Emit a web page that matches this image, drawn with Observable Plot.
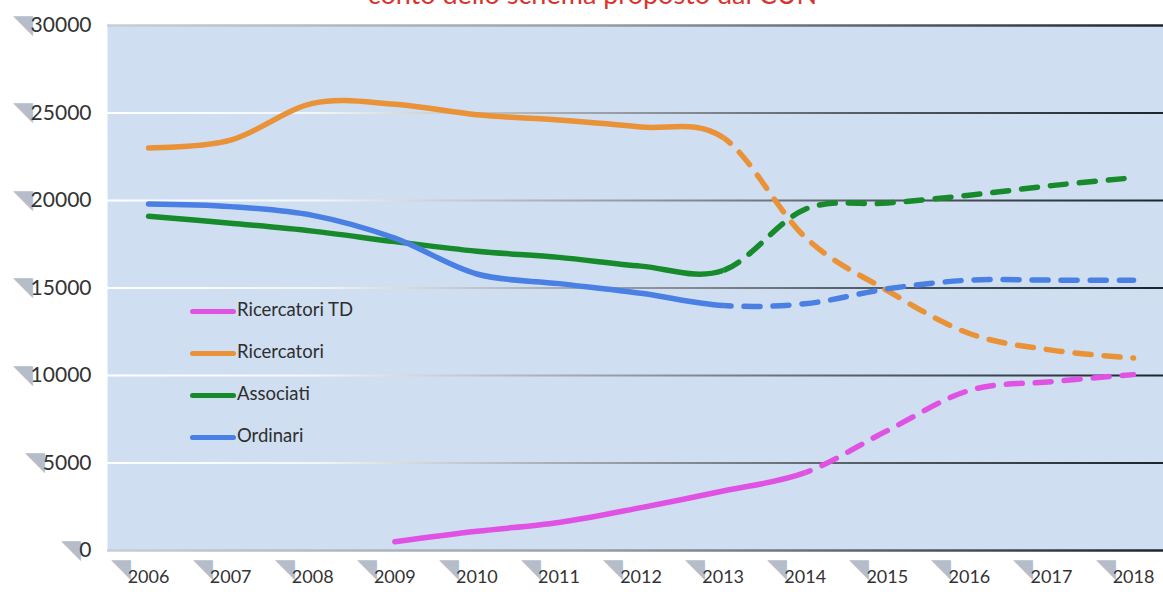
<!DOCTYPE html>
<html>
<head>
<meta charset="utf-8">
<script src="https://cdn.jsdelivr.net/npm/d3@7"></script>
<script src="https://cdn.jsdelivr.net/npm/@observablehq/plot@0.6"></script>
<style>
  html, body { margin: 0; padding: 0; background: #ffffff; overflow: hidden; }
  #wrap { position: relative; width: 1163px; height: 592px; font-family: Lato, "Open Sans", sans-serif; }
  #title { position: absolute; top: -20px; left: 11px; width: 1163px; text-align: center;
           font-size: 27px; line-height: 27px; color: #d8352f; white-space: nowrap; }
  #legend { position: absolute; left: 190px; top: 288px; font-size: 18.5px; color: #2e2e2e; }
  #legend .row { height: 42px; line-height: 42px; white-space: nowrap; }
  #legend .sw { display: inline-block; width: 46px; height: 5px; border-radius: 3px; vertical-align: middle; margin-right: 1px; }
  #chart svg { display: block; }
</style>
</head>
<body>
<div id="wrap">
  <div id="chart"></div>
  <div id="title">conto dello schema proposto dal CUN</div>
  <div id="legend"></div>
</div>
<script>
// ---- data ----
const years = [2006, 2007, 2008, 2009, 2010, 2011, 2012, 2013, 2014, 2015, 2016, 2017, 2018];
const ricercatoriTD = [null, null, null, 500, 1100, 1600, 2450, 3400, 4450, 6850, 9150, 9650, 10050];
const ricercatori   = [23000, 23450, 25550, 25500, 24900, 24600, 24200, 23600, 17900, 14850, 12400, 11450, 11000];
const associati     = [19100, 18700, 18250, 17650, 17100, 16750, 16250, 16000, 19500, 19850, 20300, 20850, 21300];
const ordinari      = [19800, 19650, 19150, 17850, 15800, 15250, 14700, 14000, 14100, 14950, 15450, 15450, 15450];
const seriesNames   = ["Ricercatori TD", "Ricercatori", "Associati", "Ordinari"];
const seriesColors  = ["#e052e4", "#e99238", "#178a2b", "#4a80e4"];
const projectionFrom = [2014, 2013, 2013, 2013];
const yTicks = [0, 5000, 10000, 15000, 20000, 25000, 30000];

const seriesValues = [ricercatoriTD, ricercatori, associati, ordinari];
const seriesRows = seriesValues.map((vals, si) =>
  years.map((yr, i) => ({series: seriesNames[si], year: yr, value: vals[i]})).filter(d => d.value != null)
);

const W = 1163, H = 592, ML = 107, MR = 0, MT = 25, MB = 42;
const Y_FONT = 21, DIGIT_W = 12.2, WEDGE = "#b5bdcb";

const lineMarks = [];
seriesRows.forEach((rows, si) => {
  const common = {x: "year", y: "value", stroke: seriesColors[si], strokeWidth: 5.5, curve: "cardinal", tension: 0};
  lineMarks.push(Plot.line(rows, {...common, strokeLinecap: "round", strokeLinejoin: "round"}));
  lineMarks.push(Plot.line(rows, {...common, strokeDasharray: "16,13", strokeLinecap: "round"}));
});

// wedges left of the y labels, grouped by label length
const wedgeMarks = [...new Set(yTicks.map(d => String(d).length))].map(len =>
  Plot.text(yTicks.filter(d => String(d).length === len), {
    y: d => d, text: () => "◥", frameAnchor: "left", dx: -16 - len * DIGIT_W + 2, dy: -1,
    textAnchor: "end", fill: WEDGE, fontSize: 26
  })
);

const chart = Plot.plot({
  width: W, height: H,
  marginLeft: ML, marginRight: MR, marginTop: MT, marginBottom: MB,
  style: {background: "transparent", fontFamily: "Lato, 'Open Sans', sans-serif", color: "#333"},
  x: {domain: [2005.5, 2018.365], axis: null},
  y: {domain: [0, 30000], axis: null},
  marks: [
    Plot.frame({fill: "#cfdff1", stroke: "none"}),
    Plot.ruleY(yTicks.filter(d => d > 0 && d < 30000), {y: d => d, stroke: "url(#gridGrad)", strokeWidth: 2}),
    Plot.ruleY([0, 30000], {y: d => d, stroke: "url(#borderGrad)", strokeWidth: 2.5}),
    ...lineMarks,
    ...wedgeMarks,
    Plot.text(yTicks, {y: d => d, text: d => String(d), frameAnchor: "left", dx: -16, textAnchor: "end",
                       fill: "#333", fontSize: Y_FONT}),
    Plot.text(years, {x: d => d, text: () => "◥", frameAnchor: "bottom", dy: 26, dx: -18, textAnchor: "end",
                      fill: WEDGE, fontSize: 26}),
    Plot.text(years, {x: d => d, text: d => String(d), frameAnchor: "bottom", dy: 32, fill: "#333", fontSize: 18})
  ]
});

document.getElementById("chart").appendChild(chart);

// gradients and clipping for solid / projected (dashed) parts
const svg = d3.select(chart);
const sx = chart.scale("x");
const xs = d3.scaleLinear(sx.domain, sx.range);
const defs = svg.insert("defs", ":first-child");
const gg = defs.append("linearGradient").attr("id", "gridGrad").attr("gradientUnits", "userSpaceOnUse")
  .attr("x1", ML).attr("x2", W).attr("y1", 0).attr("y2", 0);
[[0, "#ffffff"], [0.2, "#f2f6fa"], [0.42, "#a9aeb5"], [0.7, "#5a6068"], [1, "#1b2530"]]
  .forEach(([o, c]) => gg.append("stop").attr("offset", o).attr("stop-color", c));
const bg = defs.append("linearGradient").attr("id", "borderGrad").attr("gradientUnits", "userSpaceOnUse")
  .attr("x1", ML).attr("x2", W).attr("y1", 0).attr("y2", 0);
[[0, "#c9ced6"], [0.45, "#9aa0a8"], [1, "#1b2530"]]
  .forEach(([o, c]) => bg.append("stop").attr("offset", o).attr("stop-color", c));

projectionFrom.forEach((yr, si) => {
  const cx = xs(yr);
  defs.append("clipPath").attr("id", "cs" + si).append("rect")
    .attr("x", 0).attr("y", 0).attr("width", cx).attr("height", H);
  defs.append("clipPath").attr("id", "cd" + si).append("rect")
    .attr("x", cx).attr("y", 0).attr("width", W - cx).attr("height", H);
});
const lineGroups = chart.querySelectorAll('g[aria-label="line"]');
lineGroups.forEach((g, k) => {
  const si = Math.floor(k / 2);
  g.setAttribute("clip-path", `url(#${k % 2 === 0 ? "cs" : "cd"}${si})`);
});

// legend
const legend = d3.select("#legend");
seriesNames.forEach((name, si) => {
  const row = legend.append("div").attr("class", "row");
  row.append("span").attr("class", "sw").style("background", seriesColors[si]);
  row.append("span").text(name);
});
</script>
</body>
</html>
